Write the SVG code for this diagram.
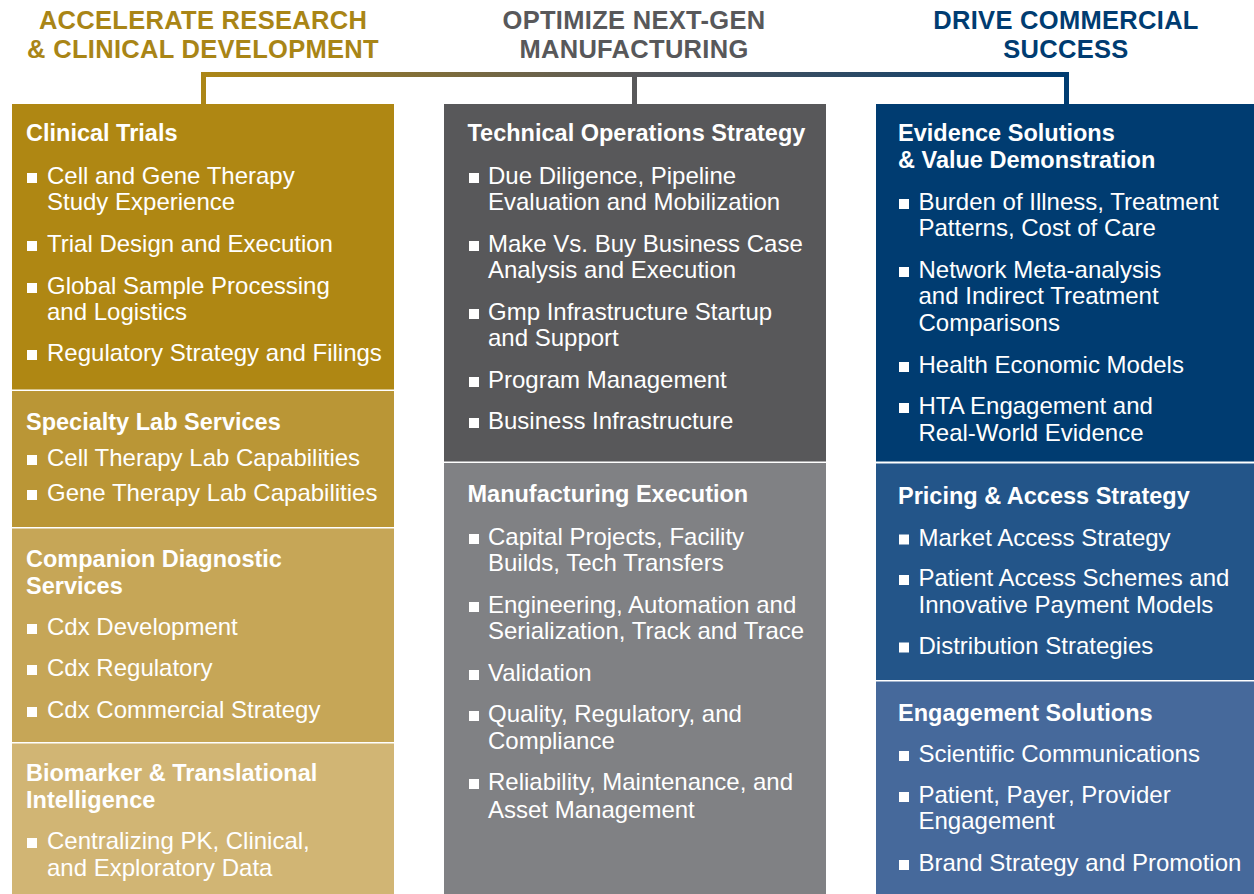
<svg xmlns="http://www.w3.org/2000/svg" width="1254" height="894" viewBox="0 0 1254 894">
<defs>
<style>
.h{font-family:"Liberation Sans",Arial,sans-serif;font-weight:bold;font-size:25.5px;letter-spacing:0.3px;text-anchor:middle}
.t{font-family:"Liberation Sans",Arial,sans-serif;font-weight:bold;font-size:23.5px;fill:#fff}
.i{font-family:"Liberation Sans",Arial,sans-serif;font-size:24px;fill:#fff}
.b{fill:#fff}
</style>
<linearGradient id="g" gradientUnits="userSpaceOnUse" x1="203" y1="0" x2="1067" y2="0">
<stop offset="0" stop-color="#AC8616"/>
<stop offset="0.5" stop-color="#58585A"/>
<stop offset="1" stop-color="#003C71"/>
</linearGradient>
</defs>
<rect width="1254" height="894" fill="#fff"/>

<g id="headers">
<text class="h" fill="#A98516"><tspan x="203" y="29">ACCELERATE RESEARCH</tspan><tspan x="203" y="58.4">&amp; CLINICAL DEVELOPMENT</tspan></text>
<text class="h" fill="#58585A"><tspan x="634" y="29">OPTIMIZE NEXT-GEN</tspan><tspan x="634" y="58.4">MANUFACTURING</tspan></text>
<text class="h" fill="#003C71"><tspan x="1066" y="29">DRIVE COMMERCIAL</tspan><tspan x="1066" y="58.4">SUCCESS</tspan></text>
</g>

<g id="connectors" fill="none" stroke="url(#g)" stroke-width="5">
<path d="M203.5,104 V74.5 H1066.5 V104"/>
<path d="M634.5,74.5 V104"/>
</g>

<g id="clinical-trials">
<rect x="12" y="104" width="382" height="285.5" fill="#AF8713"/>
<text class="t" x="26" y="141">Clinical Trials</text>
<rect class="b" x="27" y="173" width="10" height="10"/>
<text class="i" x="47" y="184">Cell and Gene Therapy</text>
<text class="i" x="47" y="210">Study Experience</text>
<rect class="b" x="27" y="241" width="10" height="10"/>
<text class="i" x="47" y="252">Trial Design and Execution</text>
<rect class="b" x="27" y="283" width="10" height="10"/>
<text class="i" x="47" y="294">Global Sample Processing</text>
<text class="i" x="47" y="320">and Logistics</text>
<rect class="b" x="27" y="350" width="10" height="10"/>
<text class="i" x="47" y="361">Regulatory Strategy and Filings</text>
</g>

<g id="specialty-lab">
<rect x="12" y="391" width="382" height="136" fill="#BA9636"/>
<text class="t" x="26" y="429.5">Specialty Lab Services</text>
<rect class="b" x="27" y="455" width="10" height="10"/>
<text class="i" x="47" y="466">Cell Therapy Lab Capabilities</text>
<rect class="b" x="27" y="490" width="10" height="10"/>
<text class="i" x="47" y="501">Gene Therapy Lab Capabilities</text>
</g>

<g id="companion-dx">
<rect x="12" y="528.5" width="382" height="213.5" fill="#C6A657"/>
<text class="t" x="26" y="567">Companion Diagnostic</text>
<text class="t" x="26" y="594">Services</text>
<rect class="b" x="27" y="624" width="10" height="10"/>
<text class="i" x="47" y="635">Cdx Development</text>
<rect class="b" x="27" y="665" width="10" height="10"/>
<text class="i" x="47" y="676">Cdx Regulatory</text>
<rect class="b" x="27" y="707" width="10" height="10"/>
<text class="i" x="47" y="718">Cdx Commercial Strategy</text>
</g>

<g id="biomarker">
<rect x="12" y="743.5" width="382" height="150.5" fill="#D1B574"/>
<text class="t" x="26" y="781">Biomarker &amp; Translational</text>
<text class="t" x="26" y="808">Intelligence</text>
<rect class="b" x="27" y="838" width="10" height="10"/>
<text class="i" x="47" y="849">Centralizing PK, Clinical,</text>
<text class="i" x="47" y="876">and Exploratory Data</text>
</g>

<g id="tech-ops">
<rect x="444" y="104" width="382" height="357.5" fill="#58585A"/>
<text class="t" x="467.5" y="141">Technical Operations Strategy</text>
<rect class="b" x="469" y="173" width="10" height="10"/>
<text class="i" x="488" y="184">Due Diligence, Pipeline</text>
<text class="i" x="488" y="210">Evaluation and Mobilization</text>
<rect class="b" x="469" y="241" width="10" height="10"/>
<text class="i" x="488" y="252">Make Vs. Buy Business Case</text>
<text class="i" x="488" y="278">Analysis and Execution</text>
<rect class="b" x="469" y="309" width="10" height="10"/>
<text class="i" x="488" y="320">Gmp Infrastructure Startup</text>
<text class="i" x="488" y="346">and Support</text>
<rect class="b" x="469" y="377" width="10" height="10"/>
<text class="i" x="488" y="388">Program Management</text>
<rect class="b" x="469" y="418" width="10" height="10"/>
<text class="i" x="488" y="429">Business Infrastructure</text>
</g>

<g id="manufacturing-execution">
<rect x="444" y="463" width="382" height="431" fill="#808184"/>
<text class="t" x="467.5" y="502">Manufacturing Execution</text>
<rect class="b" x="469" y="534" width="10" height="10"/>
<text class="i" x="488" y="545">Capital Projects, Facility</text>
<text class="i" x="488" y="571">Builds, Tech Transfers</text>
<rect class="b" x="469" y="602" width="10" height="10"/>
<text class="i" x="488" y="613">Engineering, Automation and</text>
<text class="i" x="488" y="639">Serialization, Track and Trace</text>
<rect class="b" x="469" y="670" width="10" height="10"/>
<text class="i" x="488" y="681">Validation</text>
<rect class="b" x="469" y="711" width="10" height="10"/>
<text class="i" x="488" y="722">Quality, Regulatory, and</text>
<text class="i" x="488" y="749">Compliance</text>
<rect class="b" x="469" y="779" width="10" height="10"/>
<text class="i" x="488" y="790">Reliability, Maintenance, and</text>
<text class="i" x="488" y="818">Asset Management</text>
</g>

<g id="evidence-solutions">
<rect x="876" y="104" width="378" height="357.5" fill="#003C71"/>
<text class="t" x="898" y="141">Evidence Solutions</text>
<text class="t" x="898" y="168">&amp; Value Demonstration</text>
<rect class="b" x="899" y="199" width="10" height="10"/>
<text class="i" x="918.5" y="210">Burden of Illness, Treatment</text>
<text class="i" x="918.5" y="236">Patterns, Cost of Care</text>
<rect class="b" x="899" y="267" width="10" height="10"/>
<text class="i" x="918.5" y="278">Network Meta-analysis</text>
<text class="i" x="918.5" y="304">and Indirect Treatment</text>
<text class="i" x="918.5" y="331">Comparisons</text>
<rect class="b" x="899" y="362" width="10" height="10"/>
<text class="i" x="918.5" y="373">Health Economic Models</text>
<rect class="b" x="899" y="403" width="10" height="10"/>
<text class="i" x="918.5" y="414">HTA Engagement and</text>
<text class="i" x="918.5" y="441">Real-World Evidence</text>
</g>

<g id="pricing-access">
<rect x="876" y="463.5" width="378" height="216.5" fill="#235589"/>
<text class="t" x="898" y="503.5">Pricing &amp; Access Strategy</text>
<rect class="b" x="899" y="534.5" width="10" height="10"/>
<text class="i" x="918.5" y="545.5">Market Access Strategy</text>
<rect class="b" x="899" y="575" width="10" height="10"/>
<text class="i" x="918.5" y="586">Patient Access Schemes and</text>
<text class="i" x="918.5" y="613">Innovative Payment Models</text>
<rect class="b" x="899" y="642.5" width="10" height="10"/>
<text class="i" x="918.5" y="653.5">Distribution Strategies</text>
</g>

<g id="engagement-solutions">
<rect x="876" y="681.5" width="378" height="212.5" fill="#46699B"/>
<text class="t" x="898" y="721">Engagement Solutions</text>
<rect class="b" x="899" y="751" width="10" height="10"/>
<text class="i" x="918.5" y="762">Scientific Communications</text>
<rect class="b" x="899" y="792" width="10" height="10"/>
<text class="i" x="918.5" y="803">Patient, Payer, Provider</text>
<text class="i" x="918.5" y="829">Engagement</text>
<rect class="b" x="899" y="860" width="10" height="10"/>
<text class="i" x="918.5" y="871">Brand Strategy and Promotion</text>
</g>
</svg>
